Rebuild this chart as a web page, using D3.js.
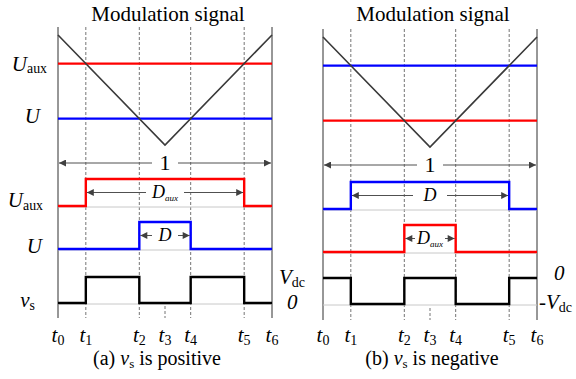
<!DOCTYPE html>
<html>
<head>
<meta charset="utf-8">
<script src="https://cdn.jsdelivr.net/npm/d3@7"></script>
<style>
    body { margin: 0; background: #fff; }
    svg { display: block; }
</style>
</head>
<body>
<svg id="chart" width="576" height="379" font-family="Liberation Serif, DejaVu Serif, serif"></svg>
<script>
// switching instants over one period (normalised)
const tickTimes = [0, 0.13, 0.38, 0.5, 0.62, 0.87, 1]
const tickSubs = ["0", "1", "2", "3", "4", "5", "6"]

// triangular carrier
const carrierTimes = [0, 0.5, 1]
const carrierValues = [1, 0, 1]

// modulation levels in carrier units
const levelHigh = 0.74
const levelLow = 0.24

// gate signals sampled at tickTimes (step after)
const pulseWide = [0, 1, 1, 1, 1, 0, 0]
const pulseNarrow = [0, 0, 1, 1, 0, 0, 0]
const vsPositive = [0, 1, 0, 0, 1, 0, 0]
const vsNegative = [0, -1, 0, 0, -1, 0, 0]

const RED = "#ff0000", BLUE = "#0000ff"
const SERIF = "'Liberation Serif', 'DejaVu Serif', serif"

const svg = d3.select("#chart")

const defs = svg.append("defs")
defs.append("marker")
    .attr("id", "arrow")
    .attr("viewBox", "0 0 10 10")
    .attr("refX", 10).attr("refY", 5)
    .attr("markerWidth", 9).attr("markerHeight", 7)
    .attr("markerUnits", "userSpaceOnUse")
    .attr("orient", "auto-start-reverse")
    .append("path")
    .attr("d", "M0,0L10,5L0,10Z")
    .style("fill", "#404040")

const panels = [
    {
        x0: 58, x1: 272, dy: 0, title: "Modulation signal", caption: "(a) ", sign: " is positive",
        levels: [{ v: levelHigh, color: RED, label: "U", sub: "aux" }, { v: levelLow, color: BLUE, label: "U", sub: "" }],
        rows: [
            { vals: pulseWide, color: RED, low: 206, label: "U", sub: "aux", dim: "D", dimSub: "aux", gap: 19, from: 1, to: 5 },
            { vals: pulseNarrow, color: BLUE, low: 249, label: "U", sub: "", dim: "D", dimSub: "", gap: 13, from: 2, to: 4 }
        ],
        vs: vsPositive, vsDomain: [0, 1], vsRange: [303, 277],
        right: [{ y: 284, x: 279, main: "V", sub: "dc", pre: "" }, { y: 309, x: 287, main: "0", sub: "", pre: "" }],
        capX: 157
    },
    {
        x0: 323, x1: 537, dy: 2, title: "Modulation signal", caption: "(b) ", sign: " is negative",
        levels: [{ v: levelHigh, color: BLUE }, { v: levelLow, color: RED }],
        rows: [
            { vals: pulseWide, color: BLUE, low: 207, dim: "D", dimSub: "", gap: 17, from: 1, to: 5 },
            { vals: pulseNarrow, color: RED, low: 250, dim: "D", dimSub: "aux", gap: 15, from: 2, to: 4 }
        ],
        vs: vsNegative, vsDomain: [-1, 0], vsRange: [302, 276],
        right: [{ y: 280, x: 554, main: "0", sub: "", pre: "" }, { y: 309, x: 539, main: "V", sub: "dc", pre: "-" }],
        capX: 432
    }
]

function txt(g, x, y, size) {
    return g.append("text")
        .attr("x", x).attr("y", y)
        .style("font-family", SERIF)
        .style("font-size", size + "px")
}

function label(g, x, y, main, sub, size, anchor) {
    const t = txt(g, x, y, size).attr("text-anchor", anchor)
    t.append("tspan").style("font-style", "italic").text(main)
    if (sub) {
        t.append("tspan")
            .attr("dy", size * 0.12)
            .style("font-size", (size * 0.66) + "px")
            .text(sub)
    }
    return t
}

function dimArrow(g, xa, xb, y, gap, main, sub, size) {
    const xm = (xa + xb) / 2
    g.append("line")
        .attr("x1", xm - gap).attr("x2", xa + 1).attr("y1", y).attr("y2", y)
        .style("stroke", "#505050").style("stroke-width", 1)
        .attr("marker-end", "url(#arrow)")
    g.append("line")
        .attr("x1", xm + gap).attr("x2", xb - 1).attr("y1", y).attr("y2", y)
        .style("stroke", "#505050").style("stroke-width", 1)
        .attr("marker-end", "url(#arrow)")
    const t = txt(g, xm, y + size * 0.33, size).attr("text-anchor", "middle")
    t.append("tspan").style("font-style", main === "1" ? "normal" : "italic").text(main)
    if (sub) {
        t.append("tspan").attr("dy", 3)
            .style("font-size", "9px").style("font-style", "italic").text(sub)
    }
}

panels.forEach(function (p) {
    const g = svg.append("g").attr("transform", `translate(0,${p.dy})`)

    const x = d3.scaleLinear().domain([0, 1]).range([p.x0, p.x1])
    const yc = d3.scaleLinear().domain([0, 1]).range([145, 35])

    // vertical guides
    const top = 27, bottom = 318
    g.selectAll("line.solid")
        .data([tickTimes[0], tickTimes[6]])
        .enter().append("line")
        .attr("x1", d => x(d)).attr("x2", d => x(d))
        .attr("y1", top).attr("y2", bottom)
        .style("stroke", "#303030").style("stroke-width", 1)
    g.selectAll("line.dash")
        .data([tickTimes[1], tickTimes[2], tickTimes[4], tickTimes[5]])
        .enter().append("line")
        .attr("x1", d => x(d)).attr("x2", d => x(d))
        .attr("y1", top).attr("y2", bottom)
        .style("stroke", "#505050").style("stroke-width", 0.8)
        .style("stroke-dasharray", "3 2")
    g.append("line")
        .attr("x1", x(tickTimes[3])).attr("x2", x(tickTimes[3]))
        .attr("y1", 306).attr("y2", bottom)
        .style("stroke", "#505050").style("stroke-width", 0.8)
        .style("stroke-dasharray", "3 2")

    // title
    txt(g, (p.x0 + p.x1) / 2 + 3, 21 - p.dy, 21)
        .attr("text-anchor", "middle")
        .text(p.title)

    // modulation levels
    p.levels.forEach(function (l) {
        g.append("line")
            .attr("x1", x(0)).attr("x2", x(1))
            .attr("y1", yc(l.v)).attr("y2", yc(l.v))
            .style("stroke", l.color).style("stroke-width", 2.2)
        if (l.label) label(g, l.sub ? 47 : 40, yc(l.v) + (l.sub ? 7 : 4), l.label, l.sub, 21, "end")
    })

    // carrier
    const carrier = d3.line()
        .x(d => x(d[0])).y(d => yc(d[1]))
    g.append("path")
        .datum(d3.zip(carrierTimes, carrierValues))
        .attr("d", carrier)
        .style("fill", "none").style("stroke", "#3a3a3a").style("stroke-width", 1.6)

    // period arrow
    dimArrow(g, x(0), x(1), 163, 13, "1", "", 22)

    // pulse rows
    p.rows.forEach(function (r) {
        const y = d3.scaleLinear().domain([0, 1]).range([r.low, r.low - 27])
        const line = d3.line().curve(d3.curveStepAfter)
            .x(d => x(d[0])).y(d => y(d[1]))
        g.append("line")
            .attr("x1", x(0)).attr("x2", x(1))
            .attr("y1", y(0) + 1).attr("y2", y(0) + 1)
            .style("stroke", "#c8c8c8").style("stroke-width", 1)
        g.append("path")
            .datum(d3.zip(tickTimes, r.vals))
            .attr("d", line)
            .style("fill", "none").style("stroke", r.color).style("stroke-width", 2.4)
        dimArrow(g, x(tickTimes[r.from]), x(tickTimes[r.to]), y(0.5), r.gap, r.dim, r.dimSub, 18)
        if (r.label) label(g, r.sub ? 43 : 42, r.low + (r.sub ? 1 : 4), r.label, r.sub, 21, "end")
    })

    // output voltage
    const yv = d3.scaleLinear().domain(p.vsDomain).range(p.vsRange)
    const vline = d3.line().curve(d3.curveStepAfter)
        .x(d => x(d[0])).y(d => yv(d[1]))
    g.append("line")
        .attr("x1", x(0)).attr("x2", x(1))
        .attr("y1", p.vsRange[0] + 1).attr("y2", p.vsRange[0] + 1)
        .style("stroke", "#c8c8c8").style("stroke-width", 1)
    g.append("path")
        .datum(d3.zip(tickTimes, p.vs))
        .attr("d", vline)
        .style("fill", "none").style("stroke", "#000").style("stroke-width", 2.4)

    if (p.dy === 0) label(g, 35, 307, "v", "s", 21, "end")

    p.right.forEach(function (r) {
        const t = txt(g, r.x, r.y - p.dy, 21)
        if (r.pre) t.append("tspan").text(r.pre)
        t.append("tspan").style("font-style", "italic").text(r.main)
        if (r.sub) t.append("tspan").attr("dy", 3).style("font-size", "14px").text(r.sub)
    })

    // time labels
    g.selectAll("text.tick")
        .data(tickTimes)
        .enter().append("text")
        .attr("class", "tick")
        .attr("x", d => x(d))
        .attr("y", 342 - p.dy)
        .attr("text-anchor", "middle")
        .style("font-family", SERIF)
        .style("font-size", "21px")
        .each(function (d, i) {
            const t = d3.select(this)
            t.append("tspan").style("font-style", "italic").text("t")
            t.append("tspan").attr("dy", 3).style("font-size", "14px").text(tickSubs[i])
        })

    // caption
    const c = txt(g, p.capX, 365 - p.dy, 20).attr("text-anchor", "middle")
    c.append("tspan").text(p.caption)
    c.append("tspan").style("font-style", "italic").text("v")
    c.append("tspan").attr("dy", 3).style("font-size", "13px").text("s")
    c.append("tspan").attr("dy", -3).text(p.sign)
})
</script>
</body>
</html>
